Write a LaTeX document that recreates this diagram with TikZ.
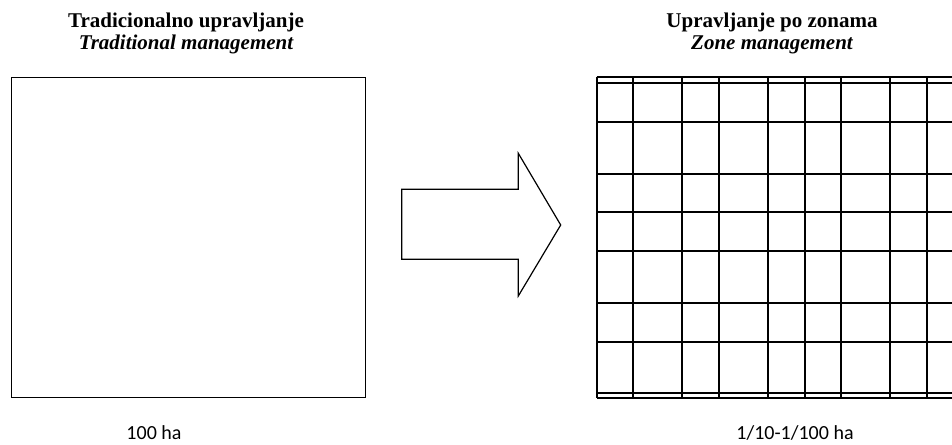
\documentclass[tikz,border=0pt]{standalone}
\usepackage{fontspec}
\setmainfont{Liberation Serif}
\newfontfamily\calib{Carlito}
\begin{document}
\begin{tikzpicture}[x=1pt,y=-1pt,
  gridline/.style={line width=1.8pt},
  titletext/.style={font=\fontsize{21}{24}\selectfont\bfseries, anchor=base, inner sep=0pt},
  subtext/.style={font=\fontsize{21}{24}\selectfont\bfseries\itshape, anchor=base, inner sep=0pt},
  areatext/.style={font=\calib\fontsize{20}{24}\selectfont, anchor=base, inner sep=0pt}]
\useasboundingbox (0,0) rectangle (952,444);
% left square
\node[draw, line width=1.3pt, minimum width=354pt, minimum height=320pt, anchor=north west, inner sep=0pt] (trad) at (10.5,77) {};
\node[titletext] (t1) at (186,28) {Tradicionalno upravljanje};
\node[subtext] (s1) at (186,50) {Traditional management};
\node[areatext] (a1) at (154,439) {100 ha};
% arrow
\draw[line width=1.2pt] (401.7,189.3) -- (518.3,189.3) -- (518.3,153.3) -- (560.7,225) -- (518.3,296) -- (518.3,259.3) -- (401.7,259.3) -- cycle;
% right grid
\node[titletext] (t2) at (772,28) {Upravljanje po zonama};
\node[subtext] (s2) at (772,50) {Zone management};
\node[areatext] (a2) at (795,439) {1/10-1/100 ha};
\foreach \xx in {596.7,633.3,682.3,719,768.3,805,841,890,927} {
  \draw[gridline] (\xx,76.7) -- (\xx,398.3);
}
\foreach \yy in {76.7,83.3,121.7,174,212.3,250.7,302.7,341.7,392.7,398.3} {
  \draw[gridline] (596.7,\yy) -- (952,\yy);
}
\end{tikzpicture}
\end{document}
